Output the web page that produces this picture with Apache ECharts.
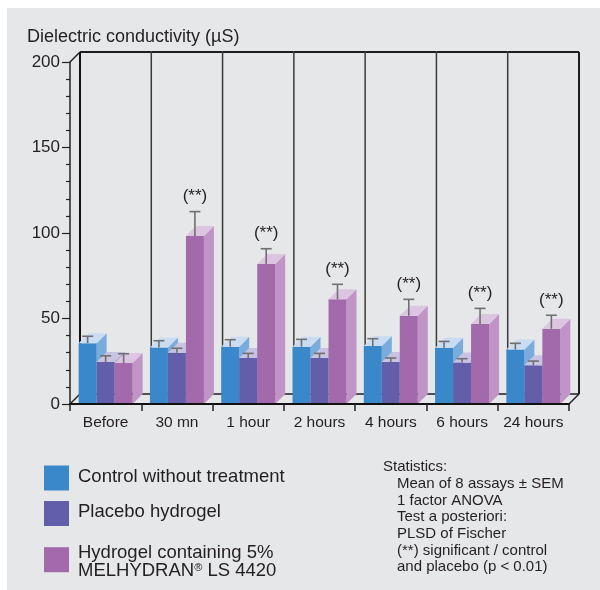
<!DOCTYPE html>
<html><head><meta charset="utf-8">
<script src="https://cdn.jsdelivr.net/npm/echarts@6/dist/echarts.min.js"></script>
<style>html,body{margin:0;padding:0;background:#fff}#c{width:600px;height:590px}</style>
</head><body><div id="c"></div>
<script>
// ---- data ----
const categories = ['Before', '30 mn', '1 hour', '2 hours', '4 hours', '6 hours', '24 hours'];
const controlMean = [35.5, 33.1, 33.5, 33.5, 33.9, 32.9, 31.8];
const controlSem = [4.1, 3.9, 4.1, 4.3, 4.3, 3.7, 3.7];
const placeboMean = [24.6, 30.0, 26.9, 26.9, 24.6, 24.2, 22.6];
const placeboSem = [3.6, 2.6, 2.7, 2.7, 2.3, 2.3, 2.5];
const hydrogelMean = [24.0, 98.2, 81.9, 61.2, 51.6, 46.8, 44.0];
const hydrogelSem = [5.4, 14.3, 8.9, 8.8, 9.6, 9.1, 7.9];
const significance = ['', '(**)', '(**)', '(**)', '(**)', '(**)', '(**)'];
const yTicks = [0, 50, 100, 150, 200];
const seriesNames = ['Control without treatment', 'Placebo hydrogel', 'Hydrogel containing 5%\nMELHYDRAN® LS 4420'];
const yTitle = 'Dielectric conductivity (µS)';
const statsTitle = 'Statistics:';
const statsLines = ['Mean of 8 assays ± SEM', '1 factor ANOVA', 'Test a posteriori:', 'PLSD of Fischer', '(**) significant / control', 'and placebo (p < 0.01)'];

// ---- style ----
const FONT = '"Liberation Sans", Arial, Helvetica, sans-serif';
const TXT = '#231f20';
const D = 10;               // depth offset in px
const BAR_FRAC = 18 / 71.3; // bar width relative to category width
const palettes = [
  {front: '#3a88c9', side: '#79abdc', top: '#c9dcf1'},
  {front: '#625ea9', side: '#8f8ac4', top: '#c7c3e0'},
  {front: '#a36aab', side: '#c094c6', top: '#dcc5e1'}
];

const chart = echarts.init(document.getElementById('c'));

function barRender(k, marks) {
  return function (params, api) {
    const i = api.value(0), v = api.value(1), e = api.value(2);
    const p0 = api.coord([i, 0]);
    const p1 = api.coord([i, v]);
    const pe = api.coord([i, v + e]);
    const cw = api.size([1, 0])[0];
    const bw = cw * BAR_FRAC;
    const x0 = p0[0] - 1.5 * bw + k * bw;
    const x1 = x0 + bw;
    const yb = p0[1], yt = p1[1];
    const pal = palettes[k];
    const xc = x0 + bw / 2;
    const children = [
      {type: 'polygon', shape: {points: [[x1, yt], [x1 + D, yt - D], [x1 + D, yb - D], [x1, yb]]}, style: {fill: pal.side}},
      {type: 'rect', shape: {x: x0, y: yt, width: bw, height: yb - yt}, style: {fill: pal.front}},
      {type: 'polygon', shape: {points: [[x0, yt], [x1, yt], [x1 + D, yt - D], [x0 + D, yt - D]]}, style: {fill: pal.top}},
      {type: 'line', shape: {x1: xc, y1: yt, x2: xc, y2: pe[1]}, style: {stroke: '#707070', lineWidth: 1.6}},
      {type: 'line', shape: {x1: xc - 5.5, y1: pe[1], x2: xc + 5.5, y2: pe[1]}, style: {stroke: '#707070', lineWidth: 1.6}}
    ];
    const m = marks && marks[i];
    if (m) {
      children.push({type: 'text', x: xc, y: pe[1] - 15, style: {text: m, fill: TXT, font: '17px ' + FONT, align: 'center', verticalAlign: 'middle'}});
    }
    return {type: 'group', children};
  };
}

function wallRender(params, api) {
  const i = api.value(0);
  const n = categories.length;
  const b = api.coord([i, 0]);
  const t = api.coord([i, yTicks[yTicks.length - 1]]);
  const cw = api.size([1, 0])[0];
  const xl = b[0] - cw / 2, xr = b[0] + cw / 2;
  const yb = b[1], yt = t[1];
  const dark = '#1e1e1e';
  const ch = [];
  ch.push({type: 'line', shape: {x1: xl + D, y1: yt - D, x2: xr + D, y2: yt - D}, style: {stroke: dark, lineWidth: 2}});
  ch.push({type: 'line', shape: {x1: xl + D, y1: yb - D, x2: xr + D, y2: yb - D}, style: {stroke: dark, lineWidth: 1.5}});
  ch.push({type: 'line', shape: {x1: xl + D, y1: yt - D, x2: xl + D, y2: yb - D},
    style: {stroke: i === 0 ? '#111' : '#3a3a3a', lineWidth: i === 0 ? 2 : 1.5}});
  if (i === 0) {
    ch.push({type: 'line', shape: {x1: xl, y1: yb, x2: xl + D, y2: yb - D}, style: {stroke: dark, lineWidth: 1.5}});
    ch.push({type: 'line', shape: {x1: xl, y1: yt, x2: xl + D, y2: yt - D}, style: {stroke: dark, lineWidth: 1.5}});
  }
  if (i === n - 1) {
    ch.push({type: 'line', shape: {x1: xr + D, y1: yt - D, x2: xr + D, y2: yb - D}, style: {stroke: dark, lineWidth: 2}});
    ch.push({type: 'line', shape: {x1: xr, y1: yb, x2: xr + D, y2: yb - D}, style: {stroke: dark, lineWidth: 1.5}});
  }
  return {type: 'group', children: ch};
}

const legendGraphics = [];
const legendY = [478, 513.5, 559.7];
seriesNames.forEach((name, k) => {
  legendGraphics.push({type: 'rect', left: 44, top: legendY[k] - 12.5, shape: {width: 25, height: 25}, style: {fill: palettes[k].front}});
});
legendGraphics.push({type: 'text', left: 78, top: legendY[0] - 11, style: {text: seriesNames[0], font: '18.5px ' + FONT, fill: TXT}});
legendGraphics.push({type: 'text', left: 78, top: legendY[1] - 11, style: {text: seriesNames[1], font: '18.5px ' + FONT, fill: TXT}});
legendGraphics.push({type: 'text', left: 78, top: 543, style: {
  text: 'Hydrogel containing 5%\nMELHYDRAN{sup|®} LS 4420', font: '18.5px ' + FONT, fill: TXT, lineHeight: 18.5,
  rich: {sup: {fontSize: 11, fontFamily: FONT, fill: TXT, padding: [0, 0, 7, 0], lineHeight: 18.5}}
}});

chart.setOption({
  backgroundColor: '#fff',
  animation: false,
  grid: {left: 70, right: 31, top: 62, bottom: 186, containLabel: false},
  xAxis: {
    type: 'category', data: categories, z: 10,
    axisLine: {lineStyle: {color: '#111', width: 2}},
    axisTick: {show: true, length: 7, lineStyle: {color: '#222', width: 1.5}},
    axisLabel: {interval: 0, fontSize: 15.5, fontFamily: FONT, color: TXT, margin: 11}
  },
  yAxis: {
    type: 'value', min: 0, max: 200, interval: 50, z: 10,
    axisLine: {show: true, lineStyle: {color: '#222', width: 1.5}},
    axisTick: {show: true, length: 8, lineStyle: {color: '#222', width: 1.2}},
    minorTick: {show: true, splitNumber: 5, length: 4, lineStyle: {color: '#222', width: 1.2}},
    splitLine: {show: false},
    axisLabel: {fontSize: 17, fontFamily: FONT, color: TXT, margin: 10}
  },
  graphic: [
    {type: 'rect', left: 7, top: 8, z: -10, silent: true, shape: {width: 600, height: 590}, style: {fill: '#e6e7e9'}},
    {type: 'text', left: 27, top: 28, style: {text: yTitle, font: '18px ' + FONT, fill: TXT}},
    ...legendGraphics,
    {type: 'text', left: 383, top: 459, style: {text: statsTitle, font: '15px ' + FONT, fill: TXT}},
    {type: 'text', left: 397, top: 475.5, style: {text: statsLines.join('\n'), font: '15px ' + FONT, fill: TXT, lineHeight: 16.7}}
  ],
  series: [
    {type: 'custom', name: 'walls', z: 1, clip: false, silent: true,
      data: categories.map((c, i) => [i]), encode: {x: 0}, renderItem: wallRender},
    {type: 'custom', name: seriesNames[0], z: 2, clip: false,
      data: controlMean.map((v, i) => [i, v, controlSem[i]]), encode: {x: 0, y: 1}, renderItem: barRender(0, null)},
    {type: 'custom', name: seriesNames[1], z: 3, clip: false,
      data: placeboMean.map((v, i) => [i, v, placeboSem[i]]), encode: {x: 0, y: 1}, renderItem: barRender(1, null)},
    {type: 'custom', name: seriesNames[2], z: 4, clip: false,
      data: hydrogelMean.map((v, i) => [i, v, hydrogelSem[i]]), encode: {x: 0, y: 1}, renderItem: barRender(2, significance)}
  ]
});
</script>
</body></html>
